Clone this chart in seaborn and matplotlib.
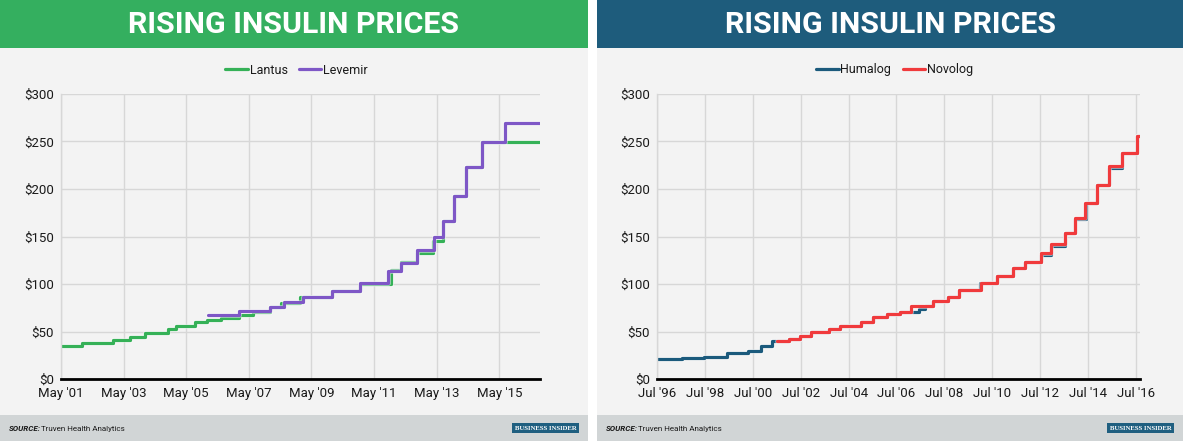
import matplotlib
matplotlib.use("Agg")
import matplotlib.pyplot as plt
import matplotlib.patheffects as pe
from matplotlib.patches import Rectangle
import pandas as pd
import seaborn as sns

# ---------------- data (step change dates and list prices, USD) ----------------
lantus_dates = ["2001-05-01", "2002-01-01", "2003-01-01", "2003-07-15", "2004-01-01", "2004-10-01",
                "2005-01-01", "2005-08-15", "2006-01-01", "2006-06-15", "2007-01-01", "2007-06-15",
                "2008-01-01", "2008-05-15", "2008-12-20", "2010-01-01", "2010-11-15", "2011-11-10",
                "2012-03-15", "2012-09-15", "2013-03-15", "2013-07-10", "2013-11-15", "2014-04-10",
                "2014-10-10", "2016-08-20"]
lantus_prices = [34.6, 37.4, 40.9, 44.4, 48.6, 52.4,
                 55.9, 59.8, 61.9, 64.3, 67.0, 70.6,
                 76.0, 80.5, 86.0, 93.0, 99.6, 114.7,
                 123.5, 132.3, 145.6, 166.7, 192.3, 222.8,
                 249.5, 249.5]

levemir_dates = ["2006-01-10", "2007-01-10", "2008-01-01", "2008-06-10", "2009-01-20", "2010-01-01",
                 "2010-11-15", "2011-10-15", "2012-03-15", "2012-09-15", "2013-04-05", "2013-07-10",
                 "2013-11-15", "2014-04-10", "2014-10-10", "2015-07-10", "2016-08-20"]
levemir_prices = [67.0, 71.6, 76.2, 80.7, 86.3, 93.0,
                  101.4, 114.0, 122.4, 135.8, 149.0, 166.7,
                  192.3, 222.8, 249.5, 269.8, 269.8]

humalog_dates = ["1996-07-01", "1997-07-20", "1998-06-20", "1999-06-01", "2000-04-25", "2000-11-05",
                 "2001-04-20", "2002-01-10", "2002-06-25", "2002-12-05", "2003-09-10", "2004-02-25",
                 "2005-01-01", "2005-07-10", "2006-02-05", "2006-09-01", "2007-06-05", "2007-09-15",
                 "2008-01-05", "2008-08-25", "2009-02-10", "2009-12-20", "2010-09-15", "2011-05-15",
                 "2011-11-15", "2012-07-10", "2012-12-20", "2013-07-10", "2013-12-15", "2014-06-01",
                 "2014-11-15", "2015-05-15", "2015-12-05", "2016-07-22", "2016-09-01"]
humalog_prices = [21.0, 22.1, 23.4, 27.2, 29.7, 34.8,
                  39.8, 42.5, 45.3, 49.5, 53.0, 56.1,
                  60.4, 65.0, 68.1, 70.5, 73.5, 76.5,
                  81.6, 86.7, 93.5, 100.7, 108.0, 116.5,
                  122.8, 130.5, 140.5, 153.3, 168.0, 185.0,
                  204.0, 222.5, 238.0, 256.0, 256.0]

novolog_dates = ["2001-07-10", "2002-01-10", "2002-06-25", "2002-12-05", "2003-09-10", "2004-02-25",
                 "2005-01-01", "2005-07-10", "2006-02-05", "2006-09-01", "2007-02-10", "2008-01-05",
                 "2008-08-25", "2009-02-10", "2010-01-05", "2010-09-15", "2011-05-15", "2011-11-15",
                 "2012-07-10", "2012-12-20", "2013-07-10", "2013-12-10", "2014-05-15", "2014-11-15",
                 "2015-05-15", "2015-11-25", "2016-07-22", "2016-09-01"]
novolog_prices = [40.0, 42.5, 45.3, 49.5, 53.0, 56.1,
                  60.4, 65.0, 68.1, 70.9, 76.5, 81.6,
                  86.7, 93.5, 100.7, 108.0, 116.5, 122.8,
                  133.0, 142.5, 153.3, 169.5, 185.0, 204.0,
                  224.0, 238.2, 256.0, 256.0]

left_tick_dates = ["2001-05-01", "2003-05-01", "2005-05-01", "2007-05-01",
                   "2009-05-01", "2011-05-01", "2013-05-01", "2015-05-01"]
left_tick_labels = ["May '01", "May '03", "May '05", "May '07",
                    "May '09", "May '11", "May '13", "May '15"]
right_tick_dates = ["1996-07-01", "1998-07-01", "2000-07-01", "2002-07-01", "2004-07-01", "2006-07-01",
                    "2008-07-01", "2010-07-01", "2012-07-01", "2014-07-01", "2016-07-01"]
right_tick_labels = ["Jul '96", "Jul '98", "Jul '00", "Jul '02", "Jul '04", "Jul '06",
                     "Jul '08", "Jul '10", "Jul '12", "Jul '14", "Jul '16"]
y_ticks = [0, 50, 100, 150, 200, 250, 300]
y_tick_labels = ["$0", "$50", "$100", "$150", "$200", "$250", "$300"]

title_text = "RISING INSULIN PRICES"
source_label = "SOURCE:"
source_text = "Truven Health Analytics"
logo_text = "BUSINESS INSIDER"

# ---------------- styling ----------------
sns.set_theme(style="white")
plt.rcParams["font.family"] = ["Roboto", "DejaVu Sans"]

W, H = 1183, 441
fig = plt.figure(figsize=(W / 100, H / 100), dpi=100)
fig.patch.set_facecolor("white")

def fx(px):
    return px / W

def fy(py):
    return 1 - py / H

def rect(x0, y0, x1, y1, color, z=-10):
    r = Rectangle((fx(x0), fy(y1)), fx(x1) - fx(x0), (y1 - y0) / H,
                  transform=fig.transFigure, facecolor=color, edgecolor="none", zorder=z)
    fig.add_artist(r)

text_col = "#1a1a1a"
grid_col = "#d7d7d7"

panels = [
    dict(x0=0, x1=588, head="#34af5f", ax_l=61, ax_r=540,
         series=[("Lantus", lantus_dates, lantus_prices, "#35b157"),
                 ("Levemir", levemir_dates, levemir_prices, "#7e57c6")],
         ticks=left_tick_dates, labels=left_tick_labels,
         xlim=("2001-05-01", "2016-08-18")),
    dict(x0=597, x1=1183, head="#1e5c7c", ax_l=657, ax_r=1140,
         series=[("Humalog", humalog_dates, humalog_prices, "#1b5a7c"),
                 ("Novolog", novolog_dates, novolog_prices, "#f03a3c")],
         ticks=right_tick_dates, labels=right_tick_labels,
         xlim=("1996-07-01", "2016-09-01")),
]

for p in panels:
    x0, x1 = p["x0"], p["x1"]
    rect(x0, 0, x1, 48, p["head"])
    rect(x0, 48, x1, 415, "#f3f3f3")
    rect(x0, 415, x1, 441, "#d1d5d6")
    cx = (x0 + x1) / 2
    fig.text(fx(cx), fy(25), title_text, color="white", fontsize=21.8, fontweight="bold",
             ha="center", va="center", family=["Roboto", "DejaVu Sans"])
    # footer
    fig.text(fx(x0 + 9), fy(428.5), source_label, fontsize=5.8, fontweight="bold",
             fontstyle="italic", color=text_col, ha="left", va="center")
    fig.text(fx(x0 + 41), fy(428.5), source_text, fontsize=5.8, color=text_col,
             ha="left", va="center")
    lx0 = x1 - 76
    rect(lx0, 423, lx0 + 67, 433, "#1f5f80", z=1)
    fig.text(fx(lx0 + 33.5), fy(428.3), logo_text, fontsize=4.9, color="white",
             fontweight="bold", family=["Liberation Serif", "DejaVu Serif"],
             ha="center", va="center", zorder=2)

    ax = fig.add_axes([fx(p["ax_l"]), fy(379), fx(p["ax_r"]) - fx(p["ax_l"]), (379 - 94) / H])
    ax.set_facecolor("none")
    frames = []
    for name, d, v, c in p["series"]:
        frames.append(pd.DataFrame({"date": pd.to_datetime(d), "price": v, "drug": name}))
    df = pd.concat(frames, ignore_index=True)
    names = [s[0] for s in p["series"]]
    pal = {s[0]: s[3] for s in p["series"]}
    sns.lineplot(data=df, x="date", y="price", hue="drug", hue_order=names, palette=pal,
                 estimator=None, drawstyle="steps-post", linewidth=2.3, ax=ax,
                 path_effects=[pe.Stroke(linewidth=3.4, foreground="white", alpha=0.55), pe.Normal()])
    ax.set_xlim(pd.Timestamp(p["xlim"][0]), pd.Timestamp(p["xlim"][1]))
    ax.set_ylim(0, 300)
    ax.set_yticks(y_ticks)
    ax.set_yticklabels(y_tick_labels)
    ax.set_xticks(pd.to_datetime(p["ticks"]))
    ax.set_xticklabels(p["labels"])
    ax.set_xlabel("")
    ax.set_ylabel("")
    ax.grid(True, color=grid_col, linewidth=1)
    ax.set_axisbelow(True)
    for s in ["top", "right"]:
        ax.spines[s].set_visible(False)
    ax.spines["left"].set_color(grid_col)
    ax.spines["left"].set_linewidth(1)
    ax.spines["bottom"].set_color("black")
    ax.spines["bottom"].set_linewidth(2)
    ax.spines["bottom"].set_zorder(5)
    ax.tick_params(axis="x", direction="inout", length=8, width=1.8, color="black",
                   labelsize=9.5, labelcolor=text_col, pad=2)
    ax.tick_params(axis="y", length=0, labelsize=9.5, labelcolor=text_col, pad=5)
    handles, labels = ax.get_legend_handles_labels()
    leg = ax.legend(handles, labels, loc="center",
                    bbox_to_anchor=(fx((p["ax_l"] + p["ax_r"]) / 2 - 4), fy(70)),
                    bbox_transform=fig.transFigure, ncol=2, frameon=False, fontsize=9,
                    handlelength=1.8, handletextpad=0.15, columnspacing=0.9, borderpad=0)
    for h in leg.get_lines():
        h.set_linewidth(2.3)
        h.set_path_effects([])
    for t in leg.get_texts():
        t.set_color(text_col)

fig.savefig("out.png", dpi=100, facecolor=fig.get_facecolor())
